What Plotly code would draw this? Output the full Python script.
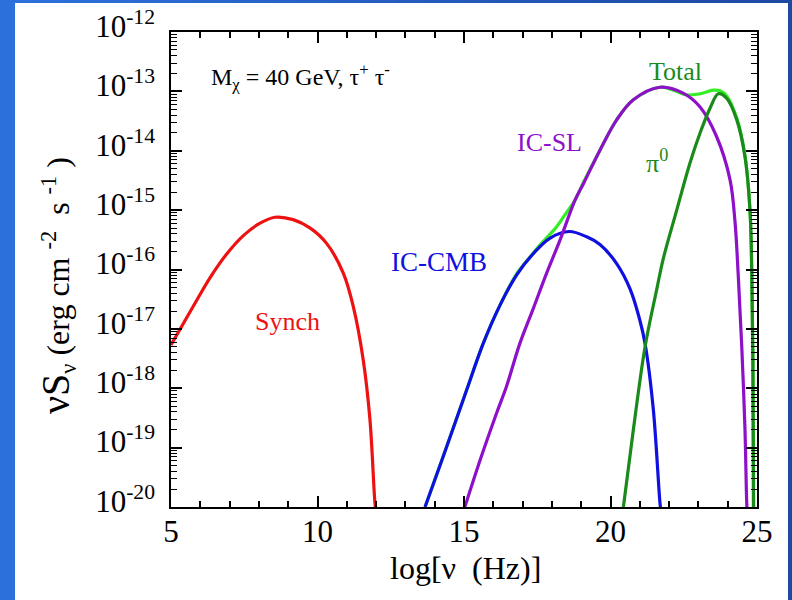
import plotly.graph_objects as go

# ---------------- data (x = log10 nu [Hz], values = log10 of nuS_nu) ----------------
synch_x = [5.0, 5.76, 6.33, 6.90, 7.47, 8.04, 8.55, 9.17, 9.74, 10.31, 10.88, 11.22, 11.56, 11.79, 11.96, 12.0]
synch_log = [-17.27, -16.62, -16.14, -15.74, -15.43, -15.22, -15.12, -15.16, -15.30, -15.56, -16.06, -16.62, -17.52, -18.53, -19.93, -20.1]

cmb_x = [13.67, 14.29, 15.09, 15.66, 16.23, 16.80, 17.37, 17.94, 18.59, 19.19, 19.64, 20.21, 20.67, 21.0, 21.18, 21.46, 21.69, 21.73]
cmb_log = [-20.0, -19.15, -18.03, -17.24, -16.60, -16.09, -15.73, -15.47, -15.36, -15.45, -15.58, -15.90, -16.33, -16.85, -17.25, -18.35, -19.94, -20.1]

sl_x = [15.03, 15.55, 16.11, 16.45, 16.91, 17.37, 17.82, 18.28, 18.79, 19.08, 19.64, 20.21, 20.78, 21.69, 22.48, 23.05, 23.62, 24.08, 24.25, 24.36, 24.48, 24.59, 24.65, 24.67]
sl_log = [-20.0, -19.21, -18.42, -17.97, -17.24, -16.65, -16.06, -15.50, -14.83, -14.55, -13.99, -13.48, -13.14, -12.93, -13.03, -13.26, -13.76, -14.49, -15.20, -16.10, -17.30, -18.70, -19.94, -20.1]

pi0_x = [20.44, 20.78, 21.18, 21.58, 21.80, 22.26, 22.71, 23.05, 23.40, 23.68, 23.97, 24.31, 24.59, 24.76, 24.82, 24.86, 24.88]
pi0_log = [-20.0, -18.70, -17.30, -16.33, -15.82, -15.00, -14.21, -13.71, -13.28, -13.04, -13.12, -13.48, -14.10, -15.00, -16.01, -17.5, -20.1]

total_x = [13.67, 14.29, 15.09, 15.66, 16.23, 16.80, 17.30, 17.59, 18.16, 18.40, 18.79, 19.08, 19.64, 20.21, 20.78, 21.69, 22.20, 22.59, 23.05, 23.51, 23.74, 23.97, 24.31, 24.59, 24.76, 24.82, 24.86, 24.89]
total_log = [-20.0, -19.15, -18.03, -17.24, -16.60, -16.07, -15.76, -15.59, -15.28, -15.11, -14.83, -14.53, -13.99, -13.48, -13.14, -12.93, -12.99, -13.06, -13.04, -12.98, -12.99, -13.08, -13.45, -14.08, -15.00, -16.00, -17.5, -20.1]

x_ticks = [5, 10, 15, 20, 25]
x_ticklabels = ["5", "10", "15", "20", "25"]
y_exponents = [-20, -19, -18, -17, -16, -15, -14, -13, -12]
y_ticklabels = ["10<sup>%d</sup>" % e for e in y_exponents]

# ---------------- figure ----------------
W, H = 792, 600
L, R, T, B = 171, 35, 32, 93
pw, ph = W - L - R, H - T - B


def px2paper_x(px):
    return (px - L) / pw


def px2paper_y(py):
    return (H - B - py) / ph


SERIF = "Liberation Serif, Times New Roman, serif"
NB = "\u00a0"

fig = go.Figure()


def add_curve(xs, logs, color, width=3.2):
    fig.add_trace(go.Scatter(
        x=xs, y=[10 ** v for v in logs], mode="lines",
        line=dict(color=color, width=width, shape="spline", smoothing=1.0),
        showlegend=False, hoverinfo="skip"))


add_curve(total_x, total_log, "#33ee22")
add_curve(synch_x, synch_log, "#ee1111")
add_curve(cmb_x, cmb_log, "#1010e0")
add_curve(sl_x, sl_log, "#8e10c8")
add_curve(pi0_x, pi0_log, "#1a8a1a")

# background: blue gradient slide + white panel
shapes = []
n = 24
c0 = (0x2C, 0x70, 0xDB)
c1 = (0x1D, 0x49, 0xA3)
for i in range(n):
    t = i / (n - 1)
    col = "rgb(%d,%d,%d)" % tuple(round(a + (b - a) * t) for a, b in zip(c0, c1))
    shapes.append(dict(type="rect", xref="paper", yref="paper", layer="below",
                       x0=px2paper_x(i * W / n), x1=px2paper_x((i + 1) * W / n + 1),
                       y0=px2paper_y(H + 2), y1=px2paper_y(-2),
                       fillcolor=col, line=dict(width=0)))
shapes.append(dict(type="rect", xref="paper", yref="paper", layer="below",
                   x0=px2paper_x(15), x1=px2paper_x(788),
                   y0=px2paper_y(H + 2), y1=px2paper_y(3),
                   fillcolor="white", line=dict(width=0)))

minor_y = [k * 10.0 ** e for e in range(-20, -12) for k in range(2, 10)]


def ann(text, xpx, ypx, size, color, xanchor="center", yanchor="middle", angle=0):
    return dict(text=text, x=px2paper_x(xpx), y=px2paper_y(ypx), xref="paper", yref="paper",
                xanchor=xanchor, yanchor=yanchor, showarrow=False, textangle=angle,
                font=dict(family=SERIF, size=size, color=color))


ytitle = ('<span style="font-size:40px">νS</span><sub>ν</sub>' + NB + '(erg cm' + NB +
          '<sup>-2</sup>' + NB + NB + 's' + NB + '<sup>-1</sup>' + NB + ')')

annotations = [
    ann("M<sub>χ</sub>" + NB + "= 40 GeV," + NB + "τ<sup>+</sup>" + NB + "τ<sup>-</sup>", 300, 77, 24, "black"),
    ann("Synch", 287, 321, 26, "#ee1111"),
    ann("IC-CMB", 439, 262, 27, "#1010e0"),
    ann("IC-SL", 549, 142, 26, "#8e10c8"),
    ann("Total", 675, 71, 26, "#1a8a1a"),
    ann("π<sup>0</sup>", 657, 162, 26, "#1a8a1a"),
    ann("log[ν" + NB + " (Hz)]", 465, 568, 32, "black"),
    ann(ytitle, 57, 286, 32, "black", angle=-90),
]

fig.update_layout(
    width=W, height=H, autosize=False,
    margin=dict(l=L, r=R, t=T, b=B, pad=0, autoexpand=False),
    paper_bgcolor="#2560c4", plot_bgcolor="white",
    shapes=shapes, annotations=annotations,
    xaxis=dict(range=[5, 25], tickmode="array", tickvals=x_ticks, ticktext=x_ticklabels,
               automargin=False,
               ticks="inside", ticklen=11, tickwidth=1.5, tickcolor="black",
               showline=True, linecolor="black", linewidth=1.5, mirror="ticks",
               showgrid=False, zeroline=False, ticklabelstandoff=-4,
               tickfont=dict(family=SERIF, size=31, color="black"),
               minor=dict(tickmode="linear", dtick=1, tick0=5, ticks="inside", ticklen=6,
                          tickwidth=1.5, tickcolor="black", showgrid=False)),
    yaxis=dict(type="log", range=[-20, -12], tickmode="array",
               tickvals=[10.0 ** e for e in y_exponents], ticktext=y_ticklabels,
               automargin=False,
               ticks="inside", ticklen=11, tickwidth=1.5, tickcolor="black",
               showline=True, linecolor="black", linewidth=1.5, mirror="ticks",
               showgrid=False, zeroline=False, ticklabelstandoff=8, ticklabelshift=-6,
               tickfont=dict(family=SERIF, size=31, color="black"),
               minor=dict(tickmode="array", tickvals=minor_y, ticks="inside", ticklen=6,
                          tickwidth=1.2, tickcolor="black", showgrid=False)),
)

fig.write_html("out.html")
